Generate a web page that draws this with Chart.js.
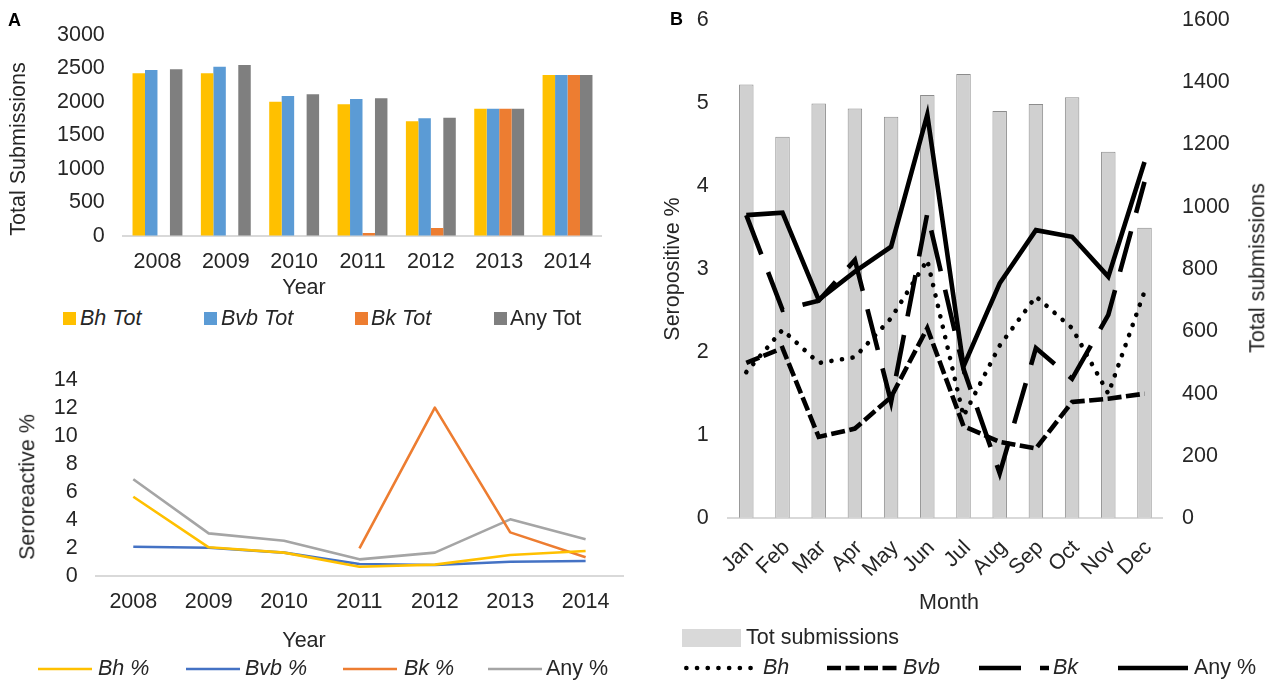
<!DOCTYPE html>
<html>
<head>
<meta charset="utf-8">
<script src="https://cdn.jsdelivr.net/npm/chart.js@4.4.1/dist/chart.umd.min.js"></script>
<style>
  html, body { margin: 0; padding: 0; background: #fff; }
  body { width: 1273px; height: 682px; position: relative; overflow: hidden;
         font-family: 'Liberation Sans', Arial, Helvetica, sans-serif; color: #262626; }
  canvas { position: absolute; }
  .t { position: absolute; white-space: nowrap; font-size: 21.5px; line-height: 1;
       transform: translate(-50%, -50%); }
  .rot { transform: translate(-50%, -50%) rotate(-90deg); }
  .lg { position: absolute; white-space: nowrap; font-size: 21.5px; line-height: 1;
        transform: translateY(-50%); }
  .i { font-style: italic; }
  .panel { position: absolute; font-weight: bold; font-size: 18px; line-height: 1;
           transform: translateY(-50%); color: #000; }
  .box { position: absolute; }
  svg { position: absolute; overflow: visible; }
</style>
</head>
<body>

<!-- Panel A: yearly submissions -->
<canvas id="subs" width="620" height="290" style="left:0;top:0"></canvas>
<div class="panel" style="left:8px;top:20px">A</div>
<div class="t rot" style="left:19px;top:149px">Total Submissions</div>
<div class="t" style="left:304px;top:288px">Year</div>

<div class="box" style="left:63px;top:312px;width:13px;height:13px;background:#FFC000"></div>
<div class="lg i" style="left:80px;top:319px">Bh Tot</div>
<div class="box" style="left:204px;top:312px;width:13px;height:13px;background:#5B9BD5"></div>
<div class="lg i" style="left:221px;top:319px">Bvb Tot</div>
<div class="box" style="left:355px;top:312px;width:13px;height:13px;background:#ED7D31"></div>
<div class="lg i" style="left:371px;top:319px">Bk Tot</div>
<div class="box" style="left:494px;top:312px;width:13px;height:13px;background:#7F7F7F"></div>
<div class="lg" style="left:510px;top:319px">Any Tot</div>

<!-- Panel A: yearly seroreactivity -->
<canvas id="sero" width="640" height="300" style="left:0;top:340px"></canvas>
<div class="t rot" style="left:28px;top:487px">Seroreactive %</div>
<div class="t" style="left:304px;top:641px">Year</div>

<svg style="left:38px;top:669px" width="54" height="1"><line x1="0" y1="0" x2="54" y2="0" stroke="#FFC000" stroke-width="2.6"/></svg>
<div class="lg i" style="left:98px;top:669px">Bh %</div>
<svg style="left:186px;top:669px" width="54" height="1"><line x1="0" y1="0" x2="54" y2="0" stroke="#4472C4" stroke-width="2.6"/></svg>
<div class="lg i" style="left:245px;top:669px">Bvb %</div>
<svg style="left:343px;top:669px" width="54" height="1"><line x1="0" y1="0" x2="54" y2="0" stroke="#ED7D31" stroke-width="2.6"/></svg>
<div class="lg i" style="left:404px;top:669px">Bk %</div>
<svg style="left:488px;top:669px" width="54" height="1"><line x1="0" y1="0" x2="54" y2="0" stroke="#A5A5A5" stroke-width="2.6"/></svg>
<div class="lg" style="left:546px;top:669px">Any %</div>

<!-- Panel B: monthly -->
<canvas id="monthly" width="613" height="600" style="left:660px;top:0"></canvas>
<div class="panel" style="left:670px;top:19px">B</div>
<div class="t rot" style="left:673px;top:269px">Seropositive %</div>
<div class="t rot" style="left:1258px;top:268px">Total submissions</div>
<div class="t" style="left:949px;top:603px">Month</div>

<div class="box" style="left:682px;top:629px;width:59px;height:18px;background:#d9d9d9"></div>
<div class="lg" style="left:746px;top:638px">Tot submissions</div>

<svg style="left:684px;top:668px" width="70" height="1"><line x1="2.3" y1="0" x2="68" y2="0" stroke="#000" stroke-width="4.6" stroke-dasharray="0.1 10.6" stroke-linecap="round"/></svg>
<div class="lg i" style="left:763px;top:668px">Bh</div>
<svg style="left:827px;top:668px" width="70" height="1"><line x1="0" y1="0" x2="70" y2="0" stroke="#000" stroke-width="4.6" stroke-dasharray="14 4.5"/></svg>
<div class="lg i" style="left:903px;top:668px">Bvb</div>
<svg style="left:979px;top:668px" width="70" height="1"><line x1="0" y1="0" x2="70" y2="0" stroke="#000" stroke-width="4.6" stroke-dasharray="42 19"/></svg>
<div class="lg i" style="left:1053px;top:668px">Bk</div>
<svg style="left:1118px;top:668px" width="70" height="1"><line x1="0" y1="0" x2="70" y2="0" stroke="#000" stroke-width="4.6"/></svg>
<div class="lg" style="left:1194px;top:668px">Any %</div>

<script>
// ---- yearly data ----
const years = ['2008', '2009', '2010', '2011', '2012', '2013', '2014'];

const bhTot  = [2428, 2428, 2004, 1966, 1712, 1900, 2403];
const bvbTot = [2478, 2527, 2090, 2045, 1757, 1900, 2403];
const bkTot  = [null, null, null, 45, 120, 1900, 2403];
const anyTot = [2488, 2552, 2115, 2056, 1766, 1900, 2403];

const bhPct  = [5.65, 2.03, 1.65, 0.64, 0.79, 1.48, 1.77];
const bvbPct = [2.07, 2.00, 1.65, 0.84, 0.77, 1.00, 1.05];
const bkPct  = [null, null, null, 1.96, 12.02, 3.10, 1.32];
const anyPct = [6.90, 3.03, 2.50, 1.17, 1.65, 4.03, 2.60];

// ---- monthly data ----
const months = ['Jan', 'Feb', 'Mar', 'Apr', 'May', 'Jun', 'Jul', 'Aug', 'Sep', 'Oct', 'Nov', 'Dec'];

const totSubmissions = [1393, 1225, 1332, 1316, 1289, 1359, 1427, 1308, 1330, 1352, 1177, 933];
const bhMonth  = [1.76, 2.27, 1.87, 1.94, 2.41, 3.11, 1.23, 2.08, 2.67, 2.29, 1.50, 2.73];
const bvbMonth = [1.87, 2.05, 0.98, 1.08, 1.46, 2.29, 1.11, 0.92, 0.84, 1.40, 1.44, 1.50];
const bkMonth  = [3.65, 2.51, 2.62, 3.11, 1.40, 3.67, 1.80, 0.54, 2.05, 1.68, 2.45, 4.05];
const anyMonth = [3.65, 3.68, 2.63, 2.97, 3.27, 4.86, 1.83, 2.83, 3.47, 3.39, 2.91, 4.29];

// ---- shared look ----
Chart.defaults.font.family = "'Liberation Sans', Arial, Helvetica, sans-serif";
Chart.defaults.font.size = 21.5;
Chart.defaults.color = '#262626';
Chart.defaults.animation = false;
Chart.defaults.plugins.legend.display = false;
Chart.defaults.plugins.tooltip.enabled = false;

const noGrid = { display: false, drawTicks: false };
const axisLine = { display: true, color: '#d9d9d9', width: 2 };
const fixW = w => (s => { s.width = w; });
const fixH = h => (s => { s.height = h; });
const plain = v => String(v);

// value axis: no grid, label gap made with an invisible tick mark so the
// tick padding does not push the plot area down
const valueAxis = (gap, extra) => Object.assign({
  grid: { display: true, drawOnChartArea: false, drawTicks: true, tickLength: gap,
          tickColor: 'rgba(0,0,0,0)' },
  border: { display: false }
}, extra);

// yearly submissions, grouped bars
new Chart(document.getElementById('subs'), {
  type: 'bar',
  data: {
    labels: years,
    datasets: [
      { label: 'Bh Tot',  data: bhTot,  backgroundColor: '#FFC000' },
      { label: 'Bvb Tot', data: bvbTot, backgroundColor: '#5B9BD5' },
      { label: 'Bk Tot',  data: bkTot,  backgroundColor: '#ED7D31' },
      { label: 'Any Tot', data: anyTot, backgroundColor: '#7F7F7F' }
    ].map(d => Object.assign(d, { barPercentage: 1, categoryPercentage: 0.73, borderWidth: 0 }))
  },
  options: {
    responsive: false,
    devicePixelRatio: 1,
    layout: { padding: { top: 35, right: 18.3, left: 0, bottom: 0 } },
    scales: {
      x: { grid: noGrid, border: axisLine,
           ticks: { padding: 12.8, maxRotation: 0, autoSkip: false },
           afterFit: fixH(54) },
      y: valueAxis(18.5, { min: 0, max: 3000,
           ticks: { stepSize: 500, padding: 0, autoSkip: false, callback: plain },
           afterFit: fixW(123.3) })
    }
  }
});

// yearly seroreactivity, lines
new Chart(document.getElementById('sero'), {
  type: 'line',
  data: {
    labels: years,
    datasets: [
      { label: 'Bh %',  data: bhPct,  borderColor: '#FFC000' },
      { label: 'Bvb %', data: bvbPct, borderColor: '#4472C4' },
      { label: 'Bk %',  data: bkPct,  borderColor: '#ED7D31' },
      { label: 'Any %', data: anyPct, borderColor: '#A5A5A5' }
    ].map(d => Object.assign(d, { borderWidth: 2.6, pointRadius: 0, tension: 0, fill: false,
                                  borderJoinStyle: 'round', spanGaps: false }))
  },
  options: {
    responsive: false,
    devicePixelRatio: 1,
    layout: { padding: { top: 40, right: 16.7, left: 0, bottom: 0 } },
    scales: {
      x: { offset: true, grid: Object.assign({ offset: true }, noGrid), border: axisLine,
           ticks: { padding: 13.1, maxRotation: 0, autoSkip: false },
           afterFit: fixH(64.3) },
      y: valueAxis(18, { min: 0, max: 14,
           ticks: { stepSize: 2, padding: 0, autoSkip: false, callback: plain },
           afterFit: fixW(95.6) })
    }
  }
});

// monthly submissions (bars, right axis) and seropositivity (lines, left axis)
const blackLine = { type: 'line', yAxisID: 'y', borderColor: '#000', borderWidth: 4.6,
                    pointRadius: 0, tension: 0, fill: false, borderJoinStyle: 'miter' };
new Chart(document.getElementById('monthly'), {
  data: {
    labels: months,
    datasets: [
      Object.assign({ label: 'Bh', data: bhMonth, borderDash: [0.1, 10.6], borderCapStyle: 'round',
                      order: 4 }, blackLine, { borderJoinStyle: 'round' }),
      Object.assign({ label: 'Bvb', data: bvbMonth, borderDash: [14, 4.5], order: 3 }, blackLine),
      Object.assign({ label: 'Bk', data: bkMonth, borderDash: [42, 19], order: 2 }, blackLine),
      Object.assign({ label: 'Any %', data: anyMonth, order: 1 }, blackLine),
      { type: 'bar', label: 'Tot submissions', data: totSubmissions, yAxisID: 'y1', order: 10,
        backgroundColor: '#d0d0d0', borderColor: '#8c8c8c', borderWidth: 1,
        barPercentage: 1, categoryPercentage: 0.4 }
    ]
  },
  options: {
    responsive: false,
    devicePixelRatio: 1,
    layout: { padding: { top: 20, right: 0, left: 0, bottom: 0 } },
    scales: {
      x: { type: 'category', offset: true, grid: Object.assign({ offset: true }, noGrid), border: axisLine,
           ticks: { padding: 17, minRotation: 45, maxRotation: 45, autoSkip: false, labelOffset: 4 },
           afterFit: fixH(81.7) },
      y: valueAxis(19.5, { position: 'left', min: 0, max: 6,
           ticks: { stepSize: 1, padding: 0, autoSkip: false, callback: plain },
           afterFit: fixW(68.2) }),
      y1: valueAxis(19.4, { position: 'right', min: 0, max: 1600,
           ticks: { stepSize: 200, padding: 0, autoSkip: false, callback: plain },
           afterFit: fixW(110.4) })
    }
  }
});
</script>
</body>
</html>
